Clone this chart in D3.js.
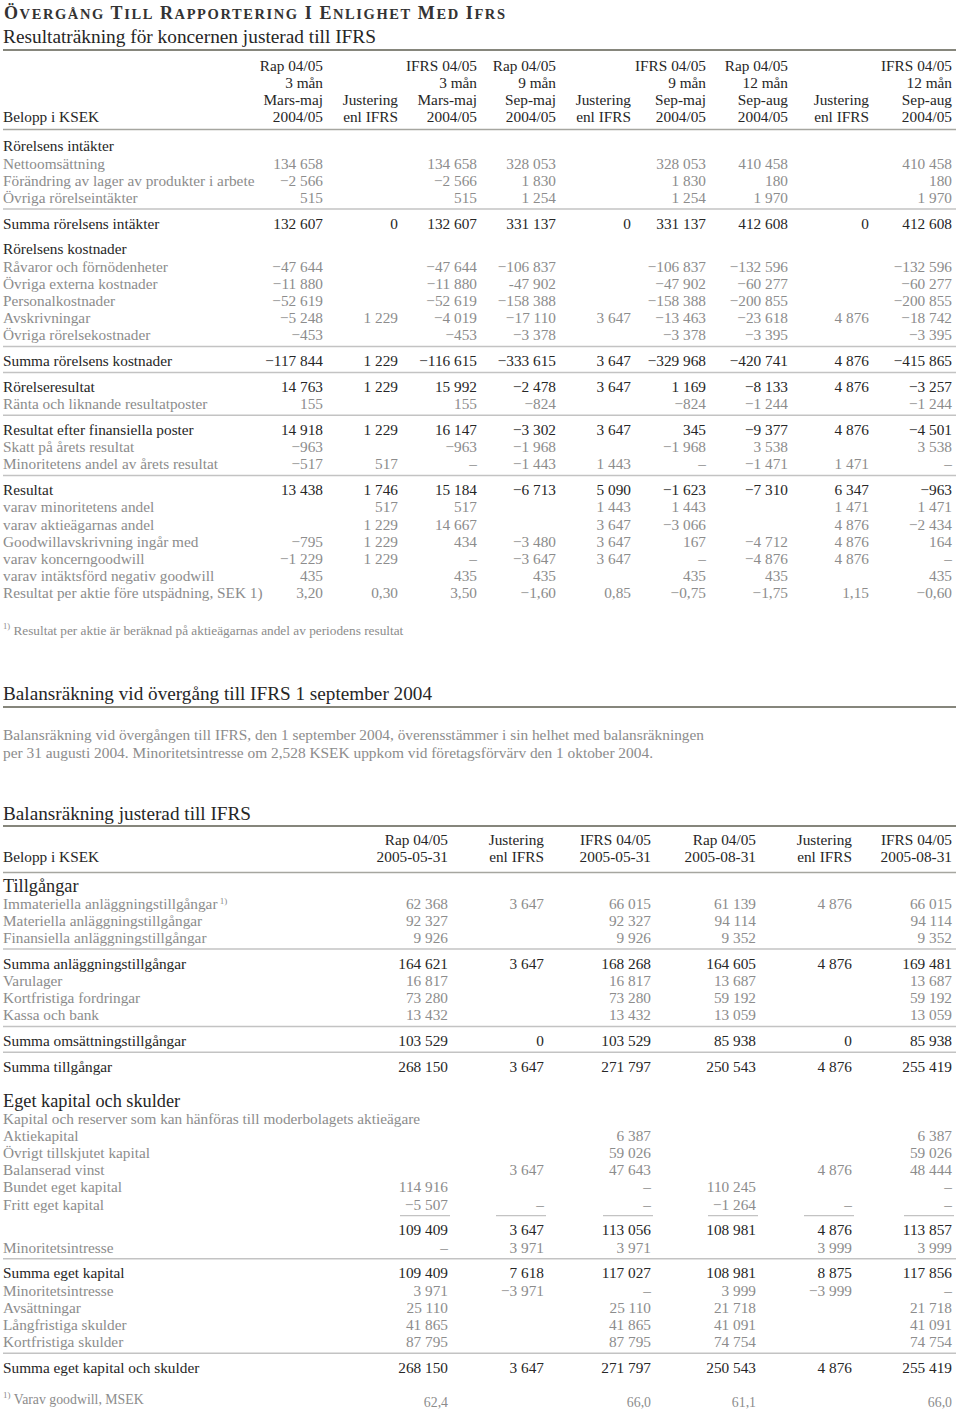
<!DOCTYPE html>
<html>
<head>
<meta charset="utf-8">
<script src="https://cdn.jsdelivr.net/npm/d3@7"></script>
<style>
  body { margin: 0; background: #fff; }
  svg text { font-family: "Liberation Serif", "Times New Roman", serif; }
</style>
</head>
<body>
<script>
// ---- Resultaträkning (income statement) ----
const incomeLabels = [
  'Rörelsens intäkter', 'Nettoomsättning', 'Förändring av lager av produkter i arbete', 'Övriga rörelseintäkter',
  'Summa rörelsens intäkter',
  'Rörelsens kostnader', 'Råvaror och förnödenheter', 'Övriga externa kostnader', 'Personalkostnader', 'Avskrivningar', 'Övriga rörelsekostnader',
  'Summa rörelsens kostnader',
  'Rörelseresultat', 'Ränta och liknande resultatposter',
  'Resultat efter finansiella poster', 'Skatt på årets resultat', 'Minoritetens andel av årets resultat',
  'Resultat', 'varav minoritetens andel', 'varav aktieägarnas andel', 'Goodwillavskrivning ingår med',
  'varav koncerngoodwill', 'varav intäktsförd negativ goodwill', 'Resultat per aktie före utspädning, SEK 1)'
]
const incomeHeads = [
  ['Rap 04/05', '3 mån', 'Mars-maj', '2004/05'],
  ['', '', 'Justering', 'enl IFRS'],
  ['IFRS 04/05', '3 mån', 'Mars-maj', '2004/05'],
  ['Rap 04/05', '9 mån', 'Sep-maj', '2004/05'],
  ['', '', 'Justering', 'enl IFRS'],
  ['IFRS 04/05', '9 mån', 'Sep-maj', '2004/05'],
  ['Rap 04/05', '12 mån', 'Sep-aug', '2004/05'],
  ['', '', 'Justering', 'enl IFRS'],
  ['IFRS 04/05', '12 mån', 'Sep-aug', '2004/05']
]
const rap3 = ['', '134 658', '−2 566', '515', '132 607', '', '−47 644', '−11 880', '−52 619', '−5 248', '−453', '−117 844', '14 763', '155', '14 918', '−963', '−517', '13 438', '', '', '−795', '−1 229', '435', '3,20']
const just3 = ['', '', '', '', '0', '', '', '', '', '1 229', '', '1 229', '1 229', '', '1 229', '', '517', '1 746', '517', '1 229', '1 229', '1 229', '', '0,30']
const ifrs3 = ['', '134 658', '−2 566', '515', '132 607', '', '−47 644', '−11 880', '−52 619', '−4 019', '−453', '−116 615', '15 992', '155', '16 147', '−963', '–', '15 184', '517', '14 667', '434', '–', '435', '3,50']
const rap9 = ['', '328 053', '1 830', '1 254', '331 137', '', '−106 837', '-47 902', '−158 388', '−17 110', '−3 378', '−333 615', '−2 478', '−824', '−3 302', '−1 968', '−1 443', '−6 713', '', '', '−3 480', '−3 647', '435', '−1,60']
const just9 = ['', '', '', '', '0', '', '', '', '', '3 647', '', '3 647', '3 647', '', '3 647', '', '1 443', '5 090', '1 443', '3 647', '3 647', '3 647', '', '0,85']
const ifrs9 = ['', '328 053', '1 830', '1 254', '331 137', '', '−106 837', '−47 902', '−158 388', '−13 463', '−3 378', '−329 968', '1 169', '−824', '345', '−1 968', '–', '−1 623', '1 443', '−3 066', '167', '–', '435', '−0,75']
const rap12 = ['', '410 458', '180', '1 970', '412 608', '', '−132 596', '−60 277', '−200 855', '−23 618', '−3 395', '−420 741', '−8 133', '−1 244', '−9 377', '3 538', '−1 471', '−7 310', '', '', '−4 712', '−4 876', '435', '−1,75']
const just12 = ['', '', '', '', '0', '', '', '', '', '4 876', '', '4 876', '4 876', '', '4 876', '', '1 471', '6 347', '1 471', '4 876', '4 876', '4 876', '', '1,15']
const ifrs12 = ['', '410 458', '180', '1 970', '412 608', '', '−132 596', '−60 277', '−200 855', '−18 742', '−3 395', '−415 865', '−3 257', '−1 244', '−4 501', '3 538', '–', '−963', '1 471', '−2 434', '164', '–', '435', '−0,60']

// ---- Balansräkning (balance sheet) ----
const balanceLabels = [
  'Tillgångar', 'Immateriella anläggningstillgångar', 'Materiella anläggningstillgångar', 'Finansiella anläggningstillgångar',
  'Summa anläggningstillgångar', 'Varulager', 'Kortfristiga fordringar', 'Kassa och bank',
  'Summa omsättningstillgångar', 'Summa tillgångar',
  'Eget kapital och skulder', 'Kapital och reserver som kan hänföras till moderbolagets aktieägare',
  'Aktiekapital', 'Övrigt tillskjutet kapital', 'Balanserad vinst', 'Bundet eget kapital', 'Fritt eget kapital',
  '', 'Minoritetsintresse',
  'Summa eget kapital', 'Minoritetsintresse', 'Avsättningar', 'Långfristiga skulder', 'Kortfristiga skulder',
  'Summa eget kapital och skulder', 'Varav goodwill, MSEK'
]
const balanceHeads = [
  ['Rap 04/05', '2005-05-31'],
  ['Justering', 'enl IFRS'],
  ['IFRS 04/05', '2005-05-31'],
  ['Rap 04/05', '2005-08-31'],
  ['Justering', 'enl IFRS'],
  ['IFRS 04/05', '2005-08-31']
]
const rapMaj = ['', '62 368', '92 327', '9 926', '164 621', '16 817', '73 280', '13 432', '103 529', '268 150', '', '', '', '', '', '114 916', '−5 507', '109 409', '–', '109 409', '3 971', '25 110', '41 865', '87 795', '268 150', '62,4']
const justMaj = ['', '3 647', '', '', '3 647', '', '', '', '0', '3 647', '', '', '', '', '3 647', '', '–', '3 647', '3 971', '7 618', '−3 971', '', '', '', '3 647', '']
const ifrsMaj = ['', '66 015', '92 327', '9 926', '168 268', '16 817', '73 280', '13 432', '103 529', '271 797', '', '', '6 387', '59 026', '47 643', '–', '–', '113 056', '3 971', '117 027', '–', '25 110', '41 865', '87 795', '271 797', '66,0']
const rapAug = ['', '61 139', '94 114', '9 352', '164 605', '13 687', '59 192', '13 059', '85 938', '250 543', '', '', '', '', '', '110 245', '−1 264', '108 981', '', '108 981', '3 999', '21 718', '41 091', '74 754', '250 543', '61,1']
const justAug = ['', '4 876', '', '', '4 876', '', '', '', '0', '4 876', '', '', '', '', '4 876', '', '–', '4 876', '3 999', '8 875', '−3 999', '', '', '', '4 876', '']
const ifrsAug = ['', '66 015', '94 114', '9 352', '169 481', '13 687', '59 192', '13 059', '85 938', '255 419', '', '', '6 387', '59 026', '48 444', '–', '–', '113 857', '3 999', '117 856', '–', '21 718', '41 091', '74 754', '255 419', '66,0']

const width = 960
const height = 1414
const dark = '#262626'
const grey = '#8c8c8c'
const ruleDark = '#86867c'
const ruleLight = '#c3c3c3'

const svg = d3.select('body').append('svg')
  .attr('width', width)
  .attr('height', height)
  .attr('viewBox', [0, 0, width, height])
svg.append('rect').attr('width', width).attr('height', height).attr('fill', '#fff')

const hline = (y, x1, x2, color, w) => svg.append('line')
  .attr('x1', x1).attr('x2', x2).attr('y1', y).attr('y2', y)
  .attr('stroke', color).attr('stroke-width', w)

// small caps title
const title = svg.append('text')
  .attr('x', 4).attr('y', 19)
  .attr('font-weight', 'bold').attr('fill', '#333')
  .attr('textLength', 501)
'ÖVERGÅNG TILL RAPPORTERING I ENLIGHET MED IFRS'.split(' ').forEach((w, i) => {
  title.append('tspan').attr('font-size', 18).text((i ? ' ' : '') + w[0])
  title.append('tspan').attr('font-size', 14.5).text(w.slice(1))
})

const heading = (txt, y, len) => svg.append('text')
  .attr('x', 3).attr('y', y)
  .attr('font-size', 19.5).attr('fill', dark)
  .attr('textLength', len).attr('lengthAdjust', 'spacingAndGlyphs')
  .text(txt)

heading('Resultaträkning för koncernen justerad till IFRS', 43, 373)
hline(50, 3, 956, ruleDark, 2)

function table(t) {
  let s = 0
  const slot = t.labels.map((d, i) => (i ? (s += 1 + (t.extra[i] || 0)) : 0))
  const y = d3.scaleLinear().domain([0, 1]).range([t.top, t.top + t.rowH])
  const x = d3.scaleOrdinal().domain(d3.range(t.cols.length)).range(t.colX)
  const g = svg.append('g').attr('font-size', t.fontSize)

  // column heads
  t.heads.forEach((lines, c) => lines.forEach((txt, k) => {
    if (!txt) return
    g.append('text')
      .attr('x', x(c)).attr('y', t.headTop + k * t.headStep)
      .attr('dy', '0.35em').attr('text-anchor', 'end')
      .attr('fill', dark).text(txt)
  }))
  g.append('text')
    .attr('x', 3).attr('y', t.headTop + (t.heads[0].length - 1) * t.headStep)
    .attr('dy', '0.35em').attr('fill', dark).text('Belopp i KSEK')
  hline(t.headRule, 3, 956, '#a6a6a0', 1.5)

  // section rules
  t.rules.forEach(r => hline(y(slot[r - 1]) + 11.5, 3, 956, ruleLight, 1.5))
  if (t.shortRule != null) {
    t.colX.forEach(cx => hline(y(slot[t.shortRule - 1]) + 11.5, cx - 48, cx + 2, ruleLight, 1.2))
  }

  // row labels
  const isDark = i => t.darkRows.includes(i)
  g.append('g').selectAll('text')
    .data(t.labels.map((label, i) => ({ label, i })).filter(d => d.label))
    .join('text')
      .attr('x', 3)
      .attr('y', d => y(slot[d.i]))
      .attr('dy', '0.35em')
      .attr('fill', d => isDark(d.i) ? dark : grey)
      .attr('font-size', d => t.bigRows.includes(d.i) ? t.fontSize + 3 : (d.i === t.noteRow ? t.fontSize - 1.5 : null))
      .each(function (d) {
        const el = d3.select(this)
        if (d.i === t.noteRow) {
          el.append('tspan').attr('font-size', 9).attr('dy', '-0.45em').text('1)')
          el.append('tspan').attr('dy', '0.45em').text(' ' + d.label)
        } else {
          el.append('tspan').text(d.label)
          if (d.i === t.refRow) el.append('tspan').attr('font-size', 9).attr('dy', '-0.5em').text(' 1)')
        }
      })

  // values
  t.cols.forEach((col, c) => {
    g.append('g').selectAll('text')
      .data(col.map((v, i) => ({ v, i })).filter(d => d.v))
      .join('text')
        .attr('x', x(c))
        .attr('y', d => y(slot[d.i]))
        .attr('dy', '0.35em')
        .attr('text-anchor', 'end')
        .attr('font-size', d => d.i === t.noteRow ? t.fontSize - 1.5 : null)
        .attr('fill', d => isDark(d.i) ? dark : grey)
        .text(d => d.v)
  })
}

table({
  labels: incomeLabels,
  heads: incomeHeads,
  cols: [rap3, just3, ifrs3, rap9, just9, ifrs9, rap12, just12, ifrs12],
  colX: [323, 398, 477, 556, 631, 706, 788, 869, 952],
  top: 146, rowH: 17.19, fontSize: 15.3,
  headTop: 66, headStep: 17, headRule: 129.5,
  extra: { 4: 0.5, 5: 0.5, 11: 0.5, 12: 0.5, 14: 0.5, 17: 0.5 },
  rules: [4, 11, 12, 14, 17],
  darkRows: [0, 4, 5, 11, 12, 14, 17],
  bigRows: []
})

// footnote for the income statement
const fn1 = svg.append('text').attr('x', 3).attr('y', 633).attr('font-size', 13.3).attr('fill', grey)
fn1.append('tspan').attr('font-size', 8.5).attr('dy', '-0.45em').text('1)')
fn1.append('tspan').attr('dy', '0.45em').text(' Resultat per aktie är beräknad på aktieägarnas andel av periodens resultat')

heading('Balansräkning vid övergång till IFRS 1 september 2004', 700, 429)
hline(707, 3, 956, ruleDark, 2)

const para = [
  'Balansräkning vid övergången till IFRS, den 1 september 2004, överensstämmer i sin helhet med balansräkningen',
  'per 31 augusti 2004. Minoritetsintresse om 2,528 KSEK uppkom vid företagsförvärv den 1 oktober 2004.'
]
svg.append('g').selectAll('text').data(para).join('text')
  .attr('x', 3).attr('y', (d, i) => 740 + i * 18)
  .attr('font-size', 14.5).attr('fill', grey)
  .attr('textLength', (d, i) => [701, 650][i]).attr('lengthAdjust', 'spacingAndGlyphs')
  .text(d => d)

heading('Balansräkning justerad till IFRS', 820, 248)
hline(826, 3, 956, ruleDark, 2)

table({
  labels: balanceLabels,
  heads: balanceHeads,
  cols: [rapMaj, justMaj, ifrsMaj, rapAug, justAug, ifrsAug],
  colX: [448, 544, 651, 756, 852, 952],
  top: 886, rowH: 17.2, fontSize: 15.3,
  headTop: 840, headStep: 17, headRule: 872.5,
  extra: { 4: 0.5, 8: 0.5, 9: 0.5, 10: 1, 17: 0.5, 19: 0.5, 24: 0.5, 25: 1 },
  rules: [4, 8, 9, 19, 24],
  shortRule: 17,
  darkRows: [0, 4, 8, 9, 10, 17, 19, 24],
  bigRows: [0, 10],
  refRow: 1,
  noteRow: 25
})
</script>
</body>
</html>
